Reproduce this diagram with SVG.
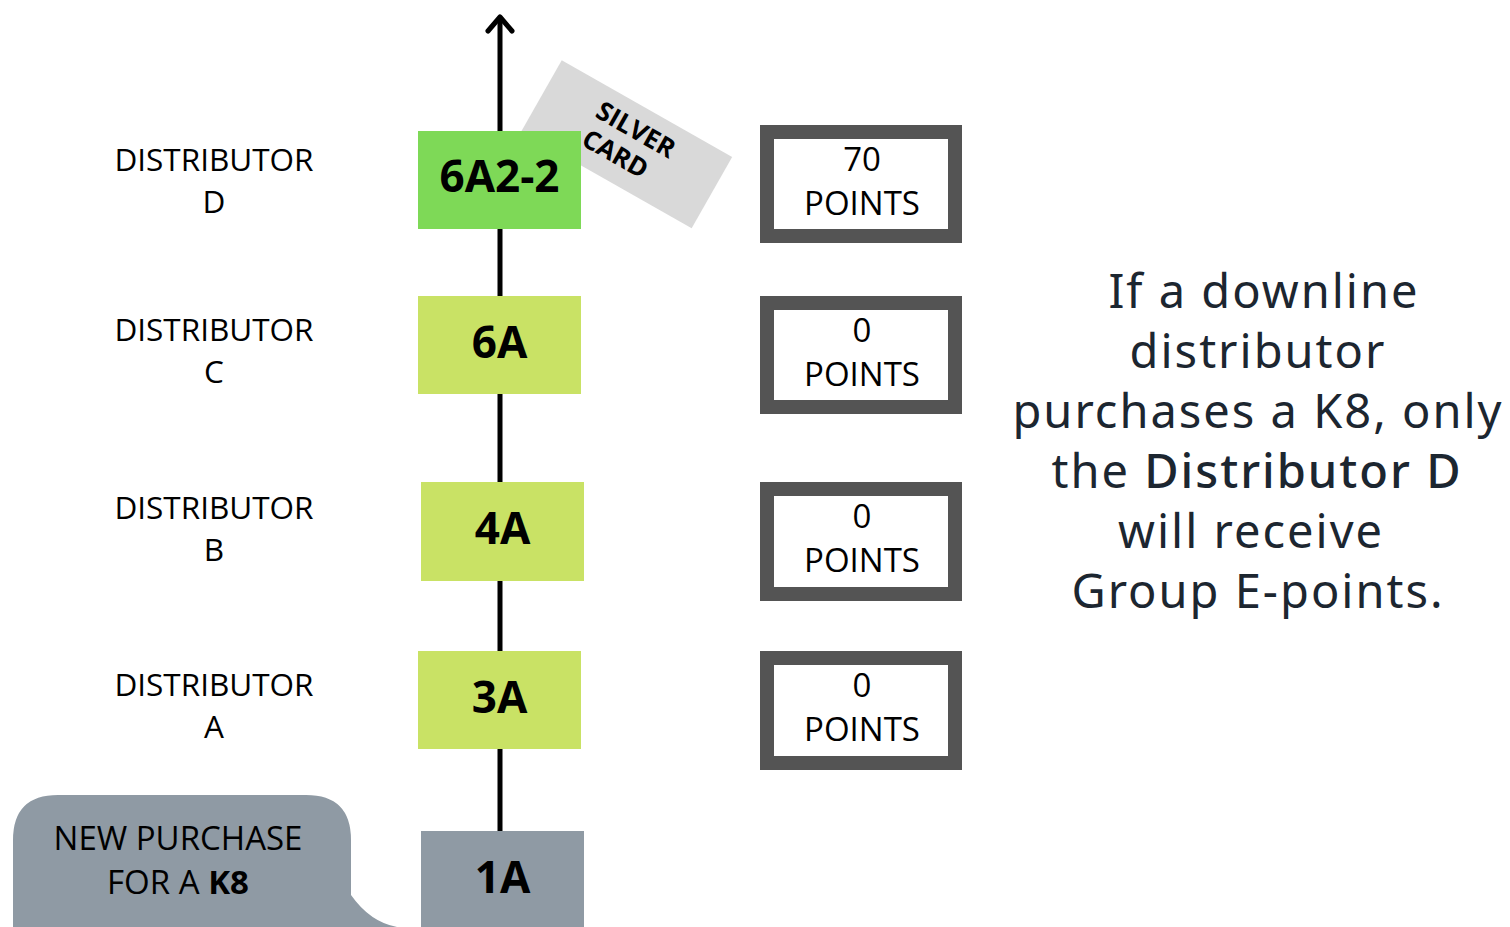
<svg xmlns="http://www.w3.org/2000/svg" width="1510" height="927" viewBox="0 0 1510 927">
<defs>
<style>
.lbl{font-family:"Open Sans","Noto Sans",sans-serif;font-size:31.5px;fill:#000;text-anchor:middle}
.pt{font-family:"Open Sans","Noto Sans",sans-serif;font-size:33px;fill:#000;text-anchor:middle}
.box{font-family:"Open Sans","Noto Sans",sans-serif;font-size:44px;font-weight:bold;fill:#000;text-anchor:middle}
.pts{fill:#fff;stroke:#545454;stroke-width:14}
.desc{font-family:"Noto Sans","Open Sans",sans-serif;font-size:47px;letter-spacing:2px;fill:#1c2630;text-anchor:middle}
</style>
</defs>
<rect width="1510" height="927" fill="#fff"/>
<g id="connectors">
<line x1="500" y1="18" x2="500" y2="831" stroke="#000" stroke-width="5"/>
<polyline points="488,31 500,17 512,31" fill="none" stroke="#000" stroke-width="5" stroke-linecap="round" stroke-linejoin="round"/>
</g>
<g id="silver-card">
<rect x="-98" y="-41" width="196" height="82" fill="#d9d9d9" transform="translate(626.7,144.2) rotate(29.6)"/>
<g transform="translate(629,142) rotate(29.6)" font-family="Open Sans, Noto Sans, sans-serif" font-size="26" font-weight="bold" text-anchor="middle" fill="#000">
<text x="0" y="-5">SILVER</text>
<text x="-6" y="26">CARD</text>
</g>
</g>
<g id="node-6A2-2">
<rect x="418" y="131" width="163" height="98" fill="#7ed957"/>
<text class="box" x="499.5" y="192">6A2-2</text>
</g>
<g id="node-6A">
<rect x="418" y="296" width="163" height="98" fill="#c9e265"/>
<text class="box" x="499.5" y="358">6A</text>
</g>
<g id="node-4A">
<rect x="421" y="482" width="163" height="99" fill="#c9e265"/>
<text class="box" x="502.5" y="544">4A</text>
</g>
<g id="node-3A">
<rect x="418" y="651" width="163" height="98" fill="#c9e265"/>
<text class="box" x="499.5" y="713">3A</text>
</g>
<g id="node-1A">
<rect x="421" y="831" width="163" height="100" fill="#8f9aa4"/>
<text class="box" x="502.5" y="893">1A</text>
</g>
<g id="label-D"><text class="lbl" x="214" y="171">DISTRIBUTOR</text><text class="lbl" x="214" y="213">D</text></g>
<g id="label-C"><text class="lbl" x="214" y="341">DISTRIBUTOR</text><text class="lbl" x="214" y="383">C</text></g>
<g id="label-B"><text class="lbl" x="214" y="519">DISTRIBUTOR</text><text class="lbl" x="214" y="561">B</text></g>
<g id="label-A"><text class="lbl" x="214" y="696">DISTRIBUTOR</text><text class="lbl" x="214" y="738">A</text></g>
<g id="points-D"><rect class="pts" x="767" y="132" width="188" height="104"/><text class="pt" x="862" y="171">70</text><text class="pt" x="862" y="215">POINTS</text></g>
<g id="points-C"><rect class="pts" x="767" y="303" width="188" height="104"/><text class="pt" x="862" y="342">0</text><text class="pt" x="862" y="386">POINTS</text></g>
<g id="points-B"><rect class="pts" x="767" y="489" width="188" height="105"/><text class="pt" x="862" y="528">0</text><text class="pt" x="862" y="572">POINTS</text></g>
<g id="points-A"><rect class="pts" x="767" y="658" width="188" height="105"/><text class="pt" x="862" y="697">0</text><text class="pt" x="862" y="741">POINTS</text></g>
<g id="bubble">
<path d="M58,795 H306 Q351,795 351,840 V895 Q370,922 397,927 H13 V840 Q13,795 58,795 Z" fill="#8f9aa4"/>
<text class="pt" x="178" y="850">NEW PURCHASE</text>
<text class="pt" x="178" y="894">FOR A <tspan font-weight="bold">K8</tspan></text>
</g>
<g id="description">
<text class="desc" x="1264" y="308">If a downline</text>
<text class="desc" x="1258" y="368">distributor</text>
<text class="desc" x="1258" y="428">purchases a K8, only</text>
<text class="desc" x="1257" y="488">the <tspan font-weight="500">Distributor D</tspan></text>
<text class="desc" x="1251" y="548">will receive</text>
<text class="desc" x="1258" y="608">Group E-points.</text>
</g>
</svg>
